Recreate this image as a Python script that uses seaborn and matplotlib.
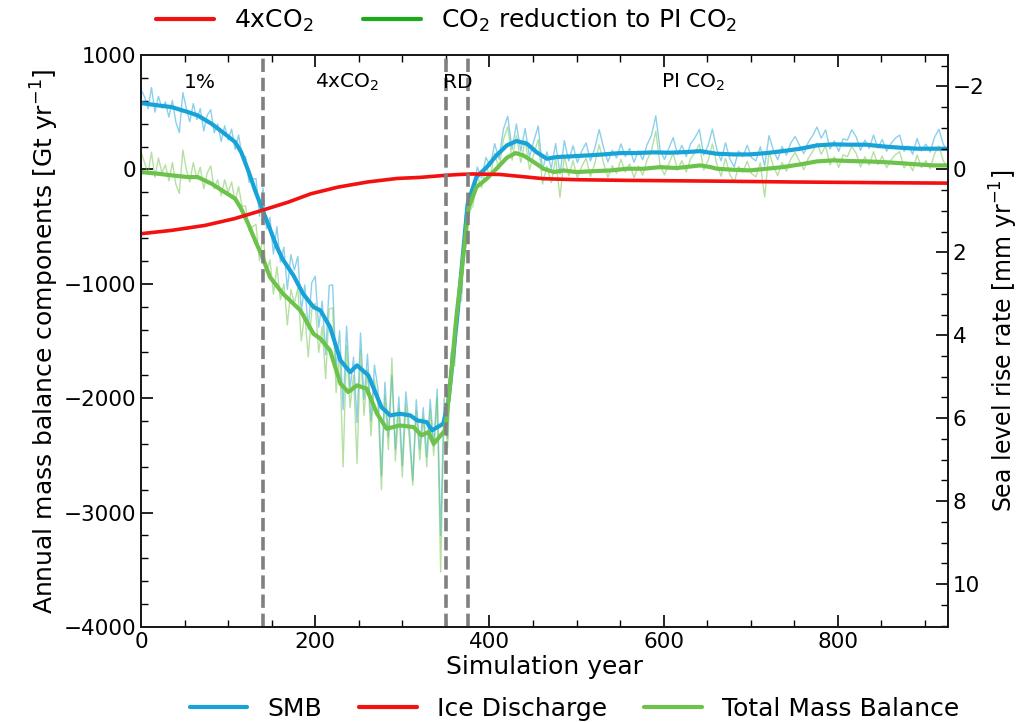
import numpy as np
import pandas as pd
import matplotlib
matplotlib.use("Agg")
import matplotlib.pyplot as plt
from matplotlib.lines import Line2D
from matplotlib.ticker import MultipleLocator
import seaborn as sns

# ---------------- data ----------------
# Smoothed surface mass balance (Gt/yr)
smb_years = [0, 20, 35, 54, 65, 81, 96, 108, 115, 123,
             131, 139, 150, 156, 163, 175, 186, 198, 206, 217,
             229, 240, 248, 261, 276, 286, 297, 309, 317, 328,
             334, 347, 353, 363, 370, 375, 385, 397, 408, 420,
             431, 443, 454, 466, 477, 493, 512, 531, 550, 569,
             588, 607, 627, 642, 653, 661, 680, 699, 718, 737,
             757, 776, 795, 814, 833, 852, 871, 891, 910, 926]
smb_smooth = [580, 559, 545, 501, 472, 399, 312, 239, 151, -9,
              -184, -344, -560, -680, -790, -927, -1087, -1203, -1233, -1378,
              -1670, -1772, -1713, -1801, -2078, -2150, -2136, -2150, -2194, -2209,
              -2281, -2223, -2019, -1291, -708, -300, -67, 20, 122, 210,
              248, 225, 151, 93, 108, 114, 122, 131, 143, 143,
              149, 146, 152, 160, 146, 137, 131, 131, 143, 160,
              181, 210, 219, 216, 216, 201, 190, 181, 181, 181]

# Smoothed total mass balance (Gt/yr)
tmb_years = [0, 20, 35, 54, 65, 81, 96, 108, 115, 123,
             131, 139, 148, 163, 183, 198, 206, 217, 229, 238,
             248, 259, 271, 282, 297, 313, 322, 330, 336, 349,
             355, 362, 368, 376, 385, 397, 408, 420, 430, 439,
             451, 462, 474, 485, 500, 520, 539, 558, 577, 596,
             615, 635, 642, 654, 661, 680, 699, 718, 737, 757,
             776, 795, 814, 833, 852, 871, 891, 910, 926]
tmb_smooth = [-23, -38, -52, -67, -67, -125, -198, -256, -344, -475,
              -621, -760, -941, -1087, -1233, -1437, -1480, -1582, -1873, -1946,
              -1888, -1917, -2136, -2267, -2238, -2253, -2325, -2296, -2398, -2281,
              -1873, -1291, -900, -340, -155, -81, 6, 102, 143, 122,
              64, 6, -23, -9, -23, -15, -9, 6, 6, 20,
              12, 29, 35, 20, 6, -3, -9, 6, 20, 44,
              70, 79, 73, 70, 64, 55, 44, 35, 35]

# Ice discharge (Gt/yr)
dis_years = [0, 35, 73, 107, 139, 169, 195, 226, 260, 294, 320, 349,
             366, 380, 412, 435, 462, 500, 558, 653, 750, 850, 926]
discharge = [-562, -533, -490, -431, -358, -286, -213, -155, -110, -79, -70, -52,
             -44, -40, -44, -61, -81, -90, -96, -102, -110, -116, -120]

# Unsmoothed output: every 4 years up to year 372, every 5 years afterwards
raw_years = list(range(0, 373, 4)) + list(range(376, 927, 5))
smb_raw = [700, 635, 530, 715, 501, 638, 535, 590, 457, 603,
           413, 322, 672, 535, 416, 576, 435, 532, 336, 474,
           522, 320, 397, 244, 382, 257, 352, 175, 300, 118,
           111, -112, -85, -80, -410, -162, -520, -420, -740, -500,
           -810, -680, -1050, -745, -880, -760, -1240, -1010, -1400, -990,
           -935, -1380, -1150, -1620, -1015, -1010, -1760, -1410, -2100, -1370,
           -1920, -1640, -2213, -1430, -2010, -1615, -2200, -1710, -1920, -2675,
           -1860, -2340, -1800, -2445, -1988, -2590, -1945, -2250, -2720, -2013,
           -2447, -2083, -2509, -2010, -2420, -1920, -3200, -2000, -2350, -1600,
           -1650, -1070, -1080, -410,
           -300, -240, 20, -75, 105, 25, 225, 90, 350, 465,
           175, 398, 160, 358, 110, 250, 380, -8, 153, 8,
           226, -40, 252, 74, 207, 60, 161, 232, 74, 186,
           349, 191, 65, 168, 101, 223, 113, 183, 63, 164,
           85, 217, 298, 468, 168, 87, 186, 278, 129, 211,
           112, 224, 277, 350, 125, 208, 352, 177, 75, 233,
           92, 21, 161, 111, 211, 102, 75, 198, 31, 295,
           170, 85, 200, 125, 231, 287, 211, 138, 236, 294,
           370, 273, 346, 178, 249, 158, 267, 256, 346, 286,
           166, 256, 184, 300, 186, 262, 159, 226, 273, 300,
           158, 205, 133, 271, 161, 221, 151, 281, 351, 221,
           161]
tmb_raw = [150, 60, -40, 150, -70, 100, -30, 40, -100, 60,
           -130, -210, 170, 0, -110, 60, -80, 20, -170, -30,
           30, -170, -90, -230, -90, -200, -110, -280, -150, -320,
           -320, -530, -500, -480, -800, -560, -900, -790, -1090, -850,
           -1140, -1000, -1360, -1050, -1170, -1040, -1500, -1260, -1640, -1230,
           -1170, -1600, -1370, -1830, -1220, -1210, -1950, -1600, -2600, -1540,
           -2080, -1800, -2570, -1580, -2150, -1750, -2330, -1840, -2050, -2800,
           -1980, -2450, -1650, -2550, -2090, -2690, -2050, -2350, -2760, -2110,
           -2540, -2170, -2600, -2100, -2500, -2000, -3520, -2080, -2430, -1680,
           -1720, -1140, -1150, -480,
           -380, -320, -60, -160, 20, -60, 140, 5, 260, 375,
           80, 298, 60, 253, 0, 135, 260, -128, 28, -117,
           96, -245, 122, -56, 77, -75, 26, 97, -61, 51,
           214, 56, -70, 33, -34, 88, -22, 48, -72, 29,
           -50, 82, 163, 333, 33, -48, 51, 143, -6, 76,
           -23, 94, 147, 220, -5, 78, 222, 47, -60, 98,
           -43, -114, 26, -24, 71, -38, -65, 58, -242, 155,
           30, -55, 60, -15, 91, 147, 71, -2, 96, 154,
           230, 133, 206, 38, 109, 18, 127, 111, 201, 141,
           21, 111, 39, 155, 41, 117, 14, 81, 128, 155,
           13, 60, -12, 126, 16, 76, 6, 136, 206, 76,
           16]

# Experiment phases
phase_bounds = [140, 350, 375]
phase_labels = ["1%", r"4xCO$_2$", "RD", r"PI CO$_2$"]
phase_label_x = [68, 237, 364, 634]

GT_PER_MM = 362.5  # Gt of ice per mm of global sea level

# ---------------- style ----------------
sns.set_style("ticks")
plt.rcParams["font.family"] = ["DejaVu Sans"]
plt.rcParams["axes.linewidth"] = 1.4
plt.rcParams["axes.edgecolor"] = "#1a1a1a"
for key in ("text.color", "axes.labelcolor", "xtick.color", "ytick.color"):
    plt.rcParams[key] = "black"

C_SMB = "#18a3d8"
C_TMB = "#6cc24a"
C_DIS = "#f21010"
C_PI = "#1aaa1a"

FS_TICK = 15.5
FS_LABEL = 18
FS_LEG = 18

fig = plt.figure(figsize=(10.22, 7.22), dpi=100)
ax = fig.add_axes([0.138, 0.1316, 0.7896, 0.7922])

raw = pd.DataFrame({"year": raw_years, "smb": smb_raw, "tmb": tmb_raw})
smb_df = pd.DataFrame({"year": smb_years, "value": smb_smooth})
tmb_df = pd.DataFrame({"year": tmb_years, "value": tmb_smooth})
dis_df = pd.DataFrame({"year": dis_years, "value": discharge})

sns.lineplot(data=raw, x="year", y="smb", ax=ax, color=C_SMB, lw=1.0, alpha=0.5,
             estimator=None, zorder=2)
sns.lineplot(data=raw, x="year", y="tmb", ax=ax, color=C_TMB, lw=1.0, alpha=0.5,
             estimator=None, zorder=2)
sns.lineplot(data=smb_df, x="year", y="value", ax=ax, color=C_SMB, lw=3.0,
             estimator=None, zorder=3)
sns.lineplot(data=tmb_df, x="year", y="value", ax=ax, color=C_TMB, lw=3.0,
             estimator=None, zorder=4)
sns.lineplot(data=dis_df, x="year", y="value", ax=ax, color=C_DIS, lw=2.6,
             estimator=None, zorder=5)

for xb in phase_bounds:
    ax.axvline(xb, color="#808080", lw=2.6, ls="--", zorder=6)

for lab, xl in zip(phase_labels, phase_label_x):
    ax.text(xl, 760, lab, ha="center", va="center", fontsize=14.5, zorder=7)

ax.set_xlim(0, 926.5)
ax.set_ylim(-4000, 1000)
ax.xaxis.set_major_locator(MultipleLocator(200))
ax.xaxis.set_minor_locator(MultipleLocator(50))
ax.yaxis.set_major_locator(MultipleLocator(1000))
ax.yaxis.set_minor_locator(MultipleLocator(200))
ax.tick_params(which="both", direction="in", top=True, right=False, labelsize=FS_TICK)
ax.tick_params(which="major", length=8.5, width=1.2)
ax.tick_params(which="minor", length=5, width=1.0)
ax.set_xlabel("Simulation year", fontsize=FS_LABEL, labelpad=2)
ax.set_ylabel(r"Annual mass balance components [Gt yr$^{-1}$]", fontsize=FS_LABEL,
              labelpad=2)

# Sea-level equivalent axis
ax2 = ax.twinx()
lo, hi = ax.get_ylim()
ax2.set_ylim(lo / -GT_PER_MM, hi / -GT_PER_MM)
ax2.yaxis.set_major_locator(MultipleLocator(2))
ax2.yaxis.set_minor_locator(MultipleLocator(0.5))
ax2.tick_params(which="both", direction="in", labelsize=FS_TICK)
ax2.tick_params(which="major", length=8.5, width=1.2)
ax2.tick_params(which="minor", length=5, width=1.0)
ax2.set_ylabel(r"Sea level rise rate [mm yr$^{-1}$]", fontsize=17, labelpad=2)

# Legends
top_handles = [Line2D([], [], color=C_DIS, lw=3), Line2D([], [], color=C_PI, lw=3)]
fig.legend(top_handles, [r"4xCO$_2$", r"CO$_2$ reduction to PI CO$_2$"],
           loc="center", bbox_to_anchor=(0.437, 0.972), ncol=2, frameon=False,
           fontsize=FS_LEG, handlelength=2.3, columnspacing=2.0, handletextpad=0.8)

bottom_handles = [Line2D([], [], color=C_SMB, lw=3), Line2D([], [], color=C_DIS, lw=3),
                  Line2D([], [], color=C_TMB, lw=3)]
fig.legend(bottom_handles, ["SMB", "Ice Discharge", "Total Mass Balance"],
           loc="center", bbox_to_anchor=(0.562, 0.018), ncol=3, frameon=False,
           fontsize=FS_LEG, handlelength=2.3, columnspacing=1.5, handletextpad=0.8)

fig.savefig("out.png", dpi=100)
